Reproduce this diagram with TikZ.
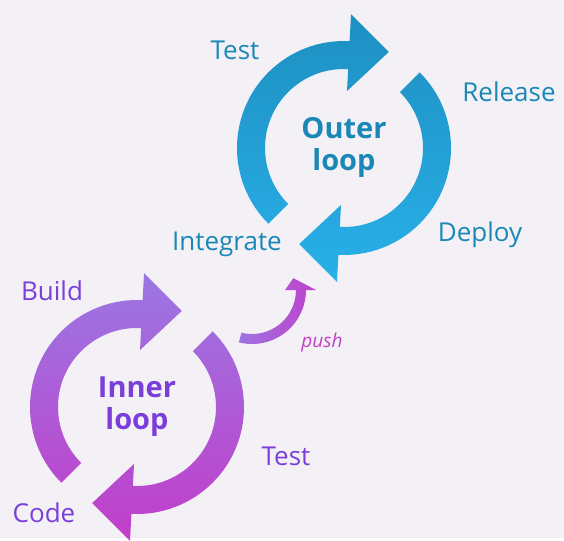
\documentclass[tikz,border=0pt]{standalone}
\usepackage{fontspec}
\setmainfont{Open Sans}
\usetikzlibrary{positioning}

\definecolor{bgcol}{HTML}{F3F1F5}
\definecolor{outertop}{HTML}{1D8FC1}
\definecolor{outerbot}{HTML}{29B0E9}
\definecolor{innertop}{HTML}{9A78E3}
\definecolor{innerbot}{HTML}{C23DC9}
\definecolor{outertxt}{HTML}{1B87B6}
\definecolor{innertxt}{HTML}{7B3ED9}
\definecolor{pushtxt}{HTML}{C03FC4}

\tikzset{
  lbl/.style={inner sep=0pt, anchor=base, font=\fontsize{26}{30}\selectfont},
  outerlbl/.style={lbl, text=outertxt},
  innerlbl/.style={lbl, text=innertxt},
  title/.style={inner sep=0pt, align=center, font=\bfseries\fontsize{29}{32}\selectfont},
  % two ring arrows, shaded top to bottom
  pics/looparrows/.style 2 args={code={
    \begin{scope}
      \clip (225:107) arc[start angle=225, end angle=87, radius=107]
            -- (87:134) -- (65:106) -- (87:57) -- (87:79)
            arc[start angle=87, end angle=225, radius=79] -- cycle
            (45:107) arc[start angle=45, end angle=-93, radius=107]
            -- (267:134) -- (245:106) -- (267:57) -- (267:79)
            arc[start angle=-93, end angle=45, radius=79] -- cycle;
      \shade[top color=#1, bottom color=#2] (-140,-136) rectangle (140,136);
    \end{scope}
  }}
}

\begin{document}
\begin{tikzpicture}[x=1pt, y=1pt]
  \fill[bgcol] (0,0) rectangle (564,538);

  % outer loop
  \pic (outer) at (344,390) {looparrows={outertop}{outerbot}};
  \node[title, text=outertxt] (outertitle) at (344,391) {Outer\\loop};
  \node[outerlbl] (outtest) at (235,478) {Test};
  \node[outerlbl] (release) at (509,436) {Release};
  \node[outerlbl] (deploy) at (480,297) {Deploy};
  \node[outerlbl] (integrate) at (227,288) {Integrate};

  % inner loop
  \pic (inner) at (137,131) {looparrows={innertop}{innerbot}};
  \node[title, text=innertxt] (innertitle) at (137,131) {Inner\\loop};
  \node[innerlbl] (build) at (52,238) {Build};
  \node[innerlbl] (intest) at (286,73) {Test};
  \node[innerlbl] (code) at (44,16) {Code};

  % push from inner to outer
  \begin{scope}[shift={(252,248)}]
    \clip (256:54) arc[start angle=256, end angle=360, radius=54]
          -- (0:64) -- (16:43) -- (0:33) -- (0:44)
          arc[start angle=360, end angle=256, radius=44] -- cycle;
    \shade[left color=innertop, right color=innerbot] (-20,-60) rectangle (70,20);
  \end{scope}
  \node[inner sep=0pt, anchor=base, text=pushtxt, font=\itshape\fontsize{19}{22}\selectfont]
    (pushlbl) at (322,191) {push};
\end{tikzpicture}
\end{document}
